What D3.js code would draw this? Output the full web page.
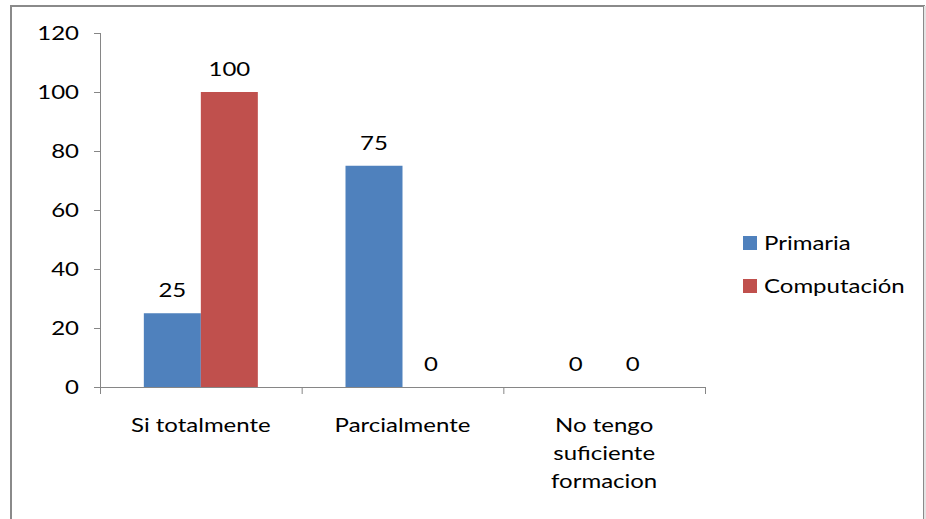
<!DOCTYPE html>
<html><head><meta charset="utf-8">
<script src="https://cdn.jsdelivr.net/npm/d3@7/dist/d3.min.js"></script>
<style>body{margin:0;background:#fff}svg{display:block}</style>
</head><body>
<script>
const categories = [["Si totalmente"], ["Parcialmente"], ["No tengo", "suficiente", "formacion"]];
const seriesNames = ["Primaria", "Computación"];
const primaria = [25, 75, 0];
const computacion = [100, 0, 0];
const yTicks = [0, 20, 40, 60, 80, 100, 120];
const colors = ["#4F81BD", "#C0504D"];

const W = 926, H = 519;
const svg = d3.select("body").append("svg").attr("width", W).attr("height", H);
const font = "Lato, 'Open Sans', sans-serif";
const FS = 20, SX = 1.2;

function label(parent, x, yy, txt, anchor) {
  return parent.append("text")
    .attr("transform", `translate(${x},${yy}) scale(${SX},1)`)
    .attr("text-anchor", anchor || "middle")
    .attr("font-family", font).attr("font-size", FS).attr("fill", "#000").text(txt);
}

// outer frame
svg.append("rect").attr("x", 11).attr("y", 6).attr("width", 913).attr("height", 530)
  .attr("fill", "#fff").attr("stroke", "#8a8a8a").attr("stroke-width", 2);
svg.append("line").attr("x1", 925).attr("x2", 925).attr("y1", 6).attr("y2", H).attr("stroke", "#e4e4e4").attr("stroke-width", 2);

const x0 = d3.scaleBand().domain(d3.range(categories.length)).range([100, 705]).paddingInner(0).paddingOuter(0);
const y = d3.scaleLinear().domain([0, 120]).range([387, 33]);
const barW = 57;
const x1 = d3.scaleBand().domain([0, 1]).range([0, barW * 2]);

const data = [primaria, computacion];
const g = svg.append("g");
data.forEach((vals, s) => {
  vals.forEach((v, i) => {
    const bx = x0(i) + (x0.bandwidth() - barW * 2) / 2 + x1(s);
    g.append("rect").attr("x", bx).attr("y", y(v)).attr("width", x1.bandwidth()).attr("height", y(0) - y(v))
      .attr("fill", colors[s]);
    label(g, bx + barW / 2, y(v) - 16, v);
  });
});

// y axis
svg.append("line").attr("x1", 100.5).attr("x2", 100.5).attr("y1", y(120)).attr("y2", y(0)).attr("stroke", "#868686");
yTicks.forEach(t => {
  svg.append("line").attr("x1", 94).attr("x2", 100).attr("y1", y(t) + 0.5).attr("y2", y(t) + 0.5).attr("stroke", "#868686");
  label(svg, 79, y(t) + 7, t, "end");
});

// x axis
svg.append("line").attr("x1", 94).attr("x2", 705).attr("y1", 387.5).attr("y2", 387.5).attr("stroke", "#868686");
const xt = [0, 1, 2].map(i => x0(i)).concat([705]);
xt.forEach(t => svg.append("line").attr("x1", t + 0.5).attr("x2", t + 0.5).attr("y1", 387).attr("y2", 394).attr("stroke", "#868686"));
categories.forEach((lines, i) => {
  lines.forEach((ln, k) => label(svg, x0(i) + x0.bandwidth() / 2, 432 + k * 28, ln));
});

// legend
seriesNames.forEach((n, s) => {
  const ly = 243 + s * 43;
  svg.append("rect").attr("x", 743).attr("y", ly - 7).attr("width", 14).attr("height", 14).attr("fill", colors[s]);
  label(svg, 764, ly + 7, n, "start");
});
</script>
</body></html>
